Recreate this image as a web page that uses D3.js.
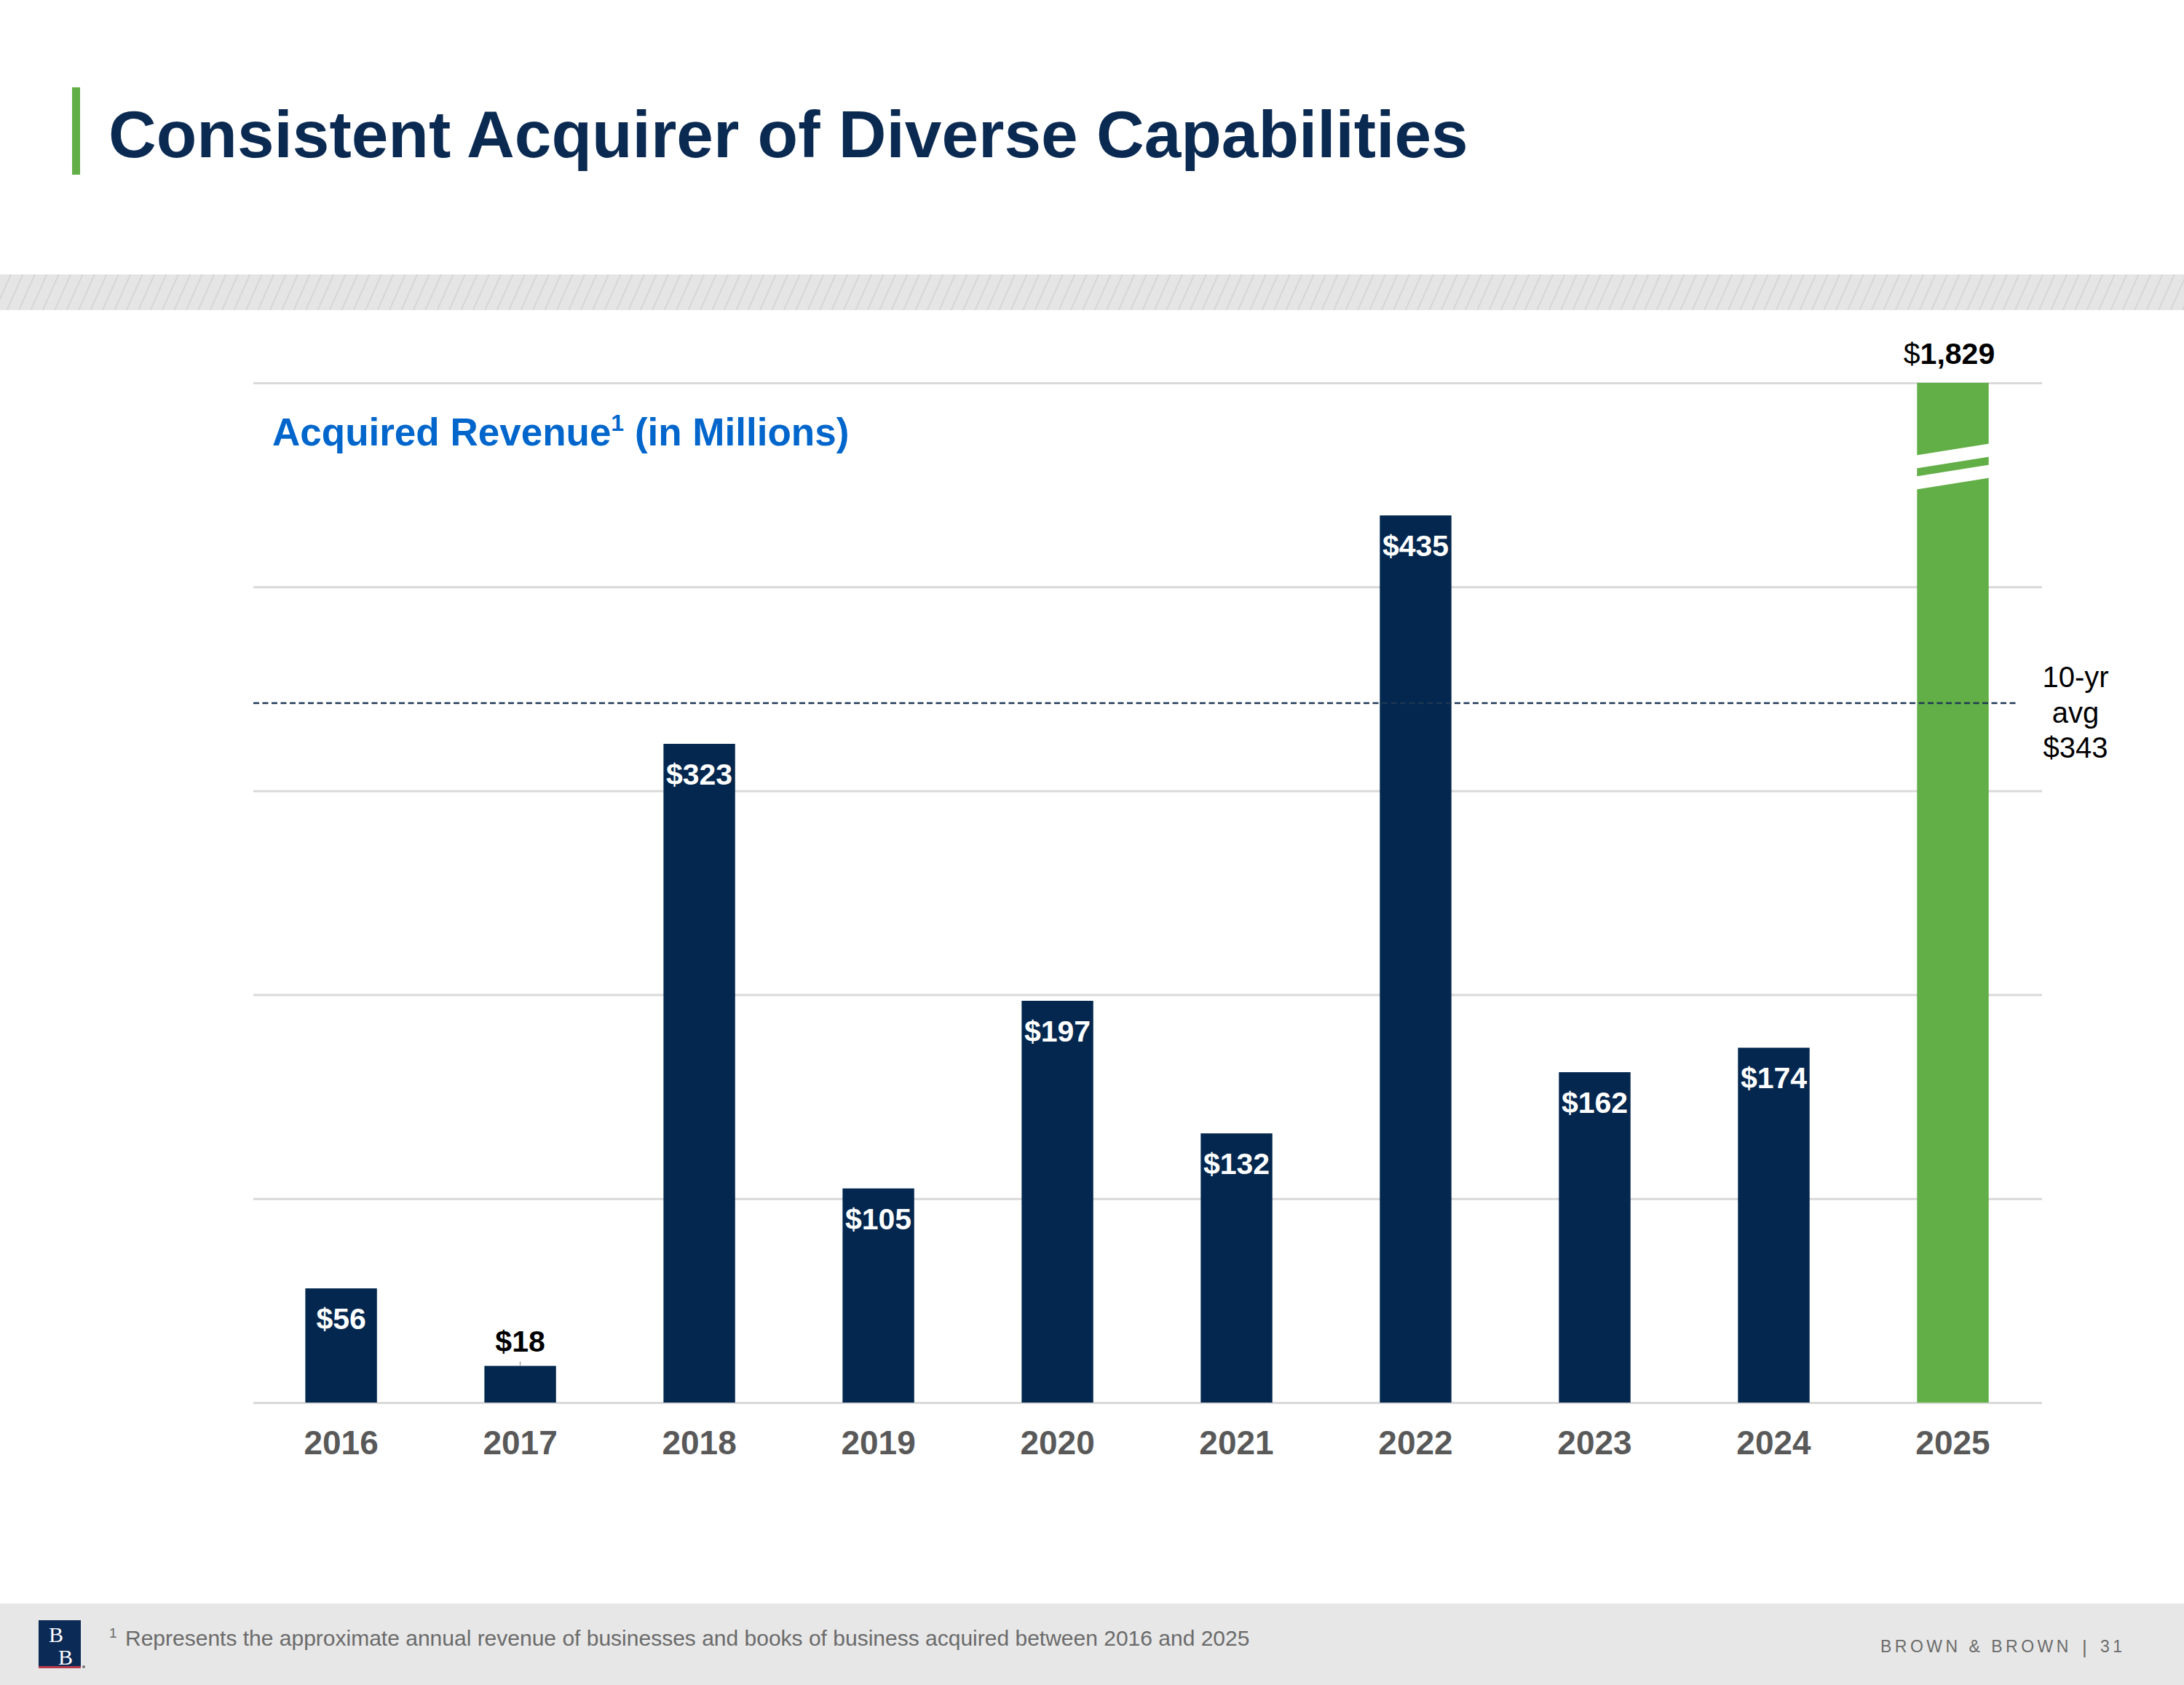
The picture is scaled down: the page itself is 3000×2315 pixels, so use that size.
<!DOCTYPE html>
<html>
<head>
<meta charset="utf-8">
<script src="https://cdn.jsdelivr.net/npm/d3@7"></script>
<style>
  body { margin: 0; background: #fff; }
  svg { display: block; font-family: "Liberation Sans", Arial, Helvetica, sans-serif; }
</style>
</head>
<body>
<div id="chart"></div>
<script>
// chart data
const years = ['2016', '2017', '2018', '2019', '2020', '2021', '2022', '2023', '2024', '2025'];
const revenue = [56, 18, 323, 105, 197, 132, 435, 162, 174, 1829];
const gridTicks = [0, 100, 200, 300, 400, 500];
const avgValue = 343;
const avgLabel = ['10-yr', 'avg', '$343'];

const W = 3000, H = 2315;
const navy = '#03274f', green = '#62ae47', grid = '#d9d9d9';

const svg = d3.select('#chart').append('svg')
  .attr('width', W)
  .attr('height', H);

/* hatch band pattern */
const defs = svg.append('defs');
const pat = defs.append('pattern')
  .attr('id', 'hatch')
  .attr('patternUnits', 'userSpaceOnUse')
  .attr('width', 15).attr('height', 15)
  .attr('patternTransform', 'rotate(24)');
pat.append('rect').attr('width', 15).attr('height', 15).attr('fill', '#e5e5e5');
pat.append('line').attr('x1', 2).attr('x2', 2).attr('y1', 0).attr('y2', 15)
  .attr('stroke', '#d6d6d6').attr('stroke-width', 2);

/* title */
svg.append('rect').attr('x', 99).attr('y', 120).attr('width', 11).attr('height', 120).attr('fill', green);
svg.append('text')
  .attr('x', 149).attr('y', 216)
  .attr('font-size', 91).attr('font-weight', 'bold').attr('fill', '#0b2a52')
  .text('Consistent Acquirer of Diverse Capabilities');

svg.append('rect').attr('x', 0).attr('y', 377).attr('width', W).attr('height', 49).attr('fill', 'url(#hatch)');

/* scales */
const x = d3.scaleBand().domain(years).range([345.6, 2805.5]).paddingInner(0.6).paddingOuter(0.3);
const yMax = d3.max(gridTicks);
const y = d3.scaleLinear().domain([0, yMax]).range([1927, 526]);

/* gridlines */
const gGrid = svg.append('g').attr('transform', 'translate(2805,0)')
  .call(d3.axisRight(y).tickValues(gridTicks).tickSize(-(2805 - 348)).tickFormat(''));
gGrid.select('.domain').remove();
gGrid.selectAll('.tick line').attr('stroke', grid).attr('stroke-width', 3);

/* subtitle */
const sub = svg.append('text')
  .attr('x', 374).attr('y', 612)
  .attr('font-size', 53).attr('font-weight', 'bold').attr('fill', '#0066cc');
sub.append('tspan').text('Acquired Revenue');
sub.append('tspan').attr('font-size', 32).attr('dy', -20).text('1');
sub.append('tspan').attr('dy', 20).text(' (in Millions)');

/* bars */
const data = years.map((yr, i) => ({ year: yr, value: revenue[i] }));
const bars = svg.append('g');
bars.selectAll('rect')
  .data(data)
  .join('rect')
  .attr('x', d => x(d.year))
  .attr('width', x.bandwidth())
  .attr('y', d => y(Math.min(d.value, yMax)))
  .attr('height', d => y(0) - y(Math.min(d.value, yMax)))
  .attr('fill', d => d.value > yMax ? green : navy);

/* axis break on the clipped bar */
const breakAt = 459;
data.filter(d => d.value > yMax).forEach(d => {
  const x0 = x(d.year), x1 = x0 + x.bandwidth();
  const yc = y(breakAt);
  const slant = 16, thick = 18, gap = 11;
  [-(gap / 2 + thick), gap / 2].forEach(off => {
    const yl = yc + slant / 2 + off, yr = yc - slant / 2 + off;
    bars.append('path')
      .attr('d', `M${x0 - 1},${yl} L${x1 + 1},${yr} L${x1 + 1},${yr + thick} L${x0 - 1},${yl + thick} Z`)
      .attr('fill', '#fff');
  });
});

/* average line */
svg.append('line')
  .attr('x1', 348).attr('x2', 2770)
  .attr('y1', y(avgValue)).attr('y2', y(avgValue))
  .attr('stroke', '#1d3654').attr('stroke-width', 2.5)
  .attr('stroke-dasharray', '8,4.5');

svg.append('text')
  .attr('x', 2851).attr('y', 944)
  .attr('font-size', 40).attr('text-anchor', 'middle').attr('fill', '#000')
  .selectAll('tspan')
  .data(avgLabel)
  .join('tspan')
  .attr('x', 2851)
  .attr('dy', (d, i) => i === 0 ? 0 : 48.5)
  .text(d => d);

/* value labels */
const labels = svg.append('g').attr('font-size', 41).attr('font-weight', 'bold').attr('text-anchor', 'middle');
data.forEach(d => {
  const cx = x(d.year) + x.bandwidth() / 2;
  if (d.value > yMax) {
    const t = labels.append('text').attr('x', cx - 5).attr('y', y(yMax) - 26).attr('fill', '#000');
    t.append('tspan').attr('font-weight', 'normal').text('$');
    t.append('tspan').text(d3.format(',')(d.value));
  } else if (y(0) - y(d.value) < 70) {
    labels.append('line')
      .attr('x1', cx).attr('x2', cx)
      .attr('y1', y(d.value) - 6).attr('y2', y(d.value))
      .attr('stroke', '#a6a6a6').attr('stroke-width', 1.5);
    labels.append('text').attr('x', cx).attr('y', y(d.value) - 20).attr('fill', '#000').text('$' + d.value);
  } else {
    labels.append('text').attr('x', cx).attr('y', y(d.value) + 56).attr('fill', '#fff').text('$' + d.value);
  }
});

/* x axis labels */
const xAxis = d3.axisBottom(x).tickSize(0).tickPadding(0);
const gx = svg.append('g').attr('transform', 'translate(0,1927)').call(xAxis);
gx.select('.domain').remove();
gx.selectAll('.tick text')
  .attr('y', 71).attr('dy', null)
  .attr('font-size', 46).attr('font-weight', 'bold')
  .attr('font-family', '"Liberation Sans", Arial, sans-serif')
  .attr('fill', '#595959');

/* footer */
svg.append('rect').attr('x', 0).attr('y', 2203).attr('width', W).attr('height', H - 2203).attr('fill', '#e7e7e7');
svg.append('rect').attr('x', 53).attr('y', 2226).attr('width', 58).attr('height', 64).attr('fill', '#0b2a55');
svg.append('rect').attr('x', 53).attr('y', 2289).attr('width', 58).attr('height', 3).attr('fill', '#b5394a');
const logo = svg.append('text').attr('font-size', 30)
  .attr('font-family', '"Liberation Serif", "DejaVu Serif", serif').attr('fill', '#fff');
logo.append('tspan').attr('x', 67).attr('y', 2256).text('B');
logo.append('tspan').attr('x', 80).attr('y', 2287).text('B');
svg.append('circle').attr('cx', 115).attr('cy', 2290).attr('r', 2).attr('fill', '#777');

const foot = svg.append('text').attr('x', 150).attr('y', 2261).attr('font-size', 30).attr('fill', '#6b6b6b');
foot.append('tspan').attr('font-size', 19).attr('dy', -11).text('1');
foot.append('tspan').attr('x', 172).attr('dy', 11).text('Represents the approximate annual revenue of businesses and books of business acquired between 2016 and 2025');

svg.append('text').attr('x', 2583).attr('y', 2270).attr('font-size', 23).attr('letter-spacing', 4.5)
  .attr('fill', '#6b6b6b').text('BROWN & BROWN');
svg.append('text').attr('x', 2860).attr('y', 2272).attr('font-size', 26).attr('fill', '#6b6b6b').text('|');
svg.append('text').attr('x', 2885).attr('y', 2270).attr('font-size', 23).attr('letter-spacing', 4.5)
  .attr('fill', '#6b6b6b').text('31');
</script>
</body>
</html>
